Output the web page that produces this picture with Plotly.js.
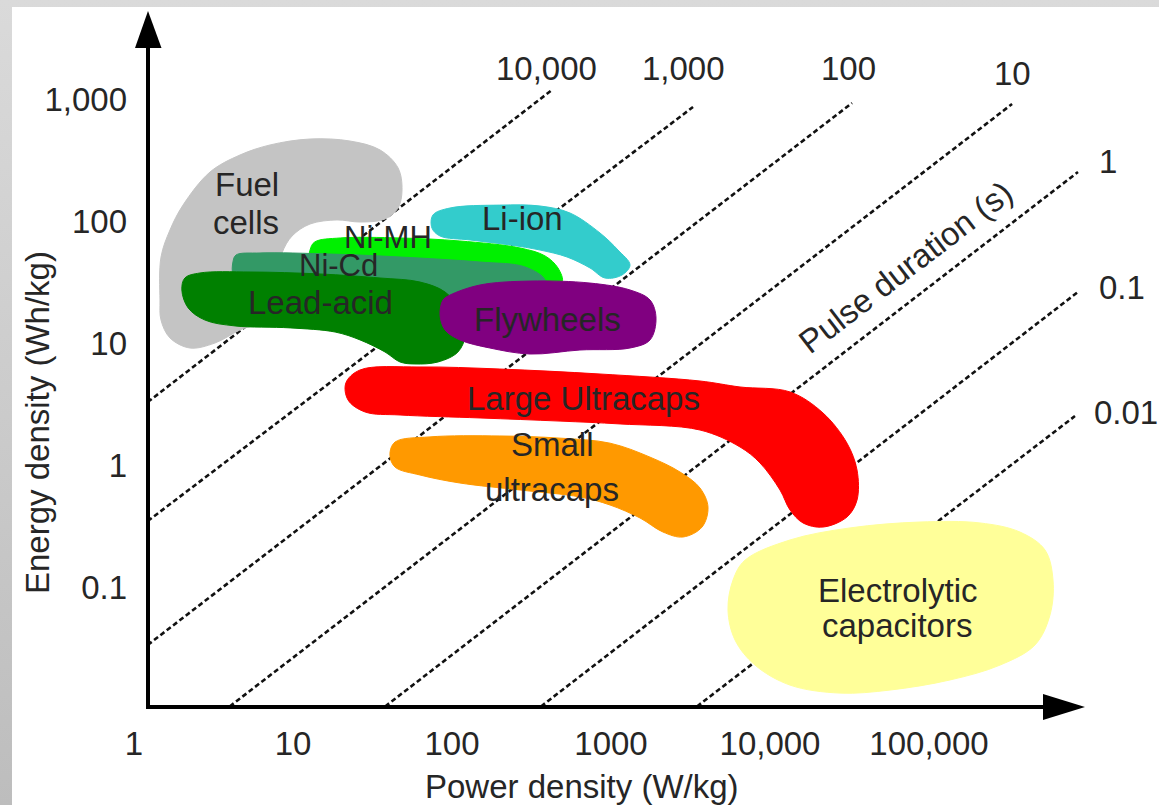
<!DOCTYPE html>
<html><head><meta charset="utf-8">
<script src="https://cdn.plot.ly/plotly-3.0.1.min.js"></script>
<style>
html,body{margin:0;padding:0;width:1159px;height:805px;overflow:hidden;background:linear-gradient(to bottom,#dadada,#bdbdbd);}
#chart{position:absolute;left:12px;top:7px;width:1147px;height:798px;background:#fff;}
</style></head><body><div id="chart"></div>
<script>
// ---- axes ----
const xTickVals = [1, 10, 100, 1000, 10000, 100000];
const xTickText = ['1', '10', '100', '1000', '10,000', '100,000'];
const yTickVals = [0.1, 1, 10, 100, 1000];
const yTickText = ['0.1', '1', '10', '100', '1,000'];

// ---- constant pulse-duration lines (seconds) ----
const pulseLabels = ['10,000', '1,000', '100', '10', '1', '0.1', '0.01'];
const pulseStartP = [1.22, 1.22, 1.22, 4.0, 38, 363, 3475];
const pulseStartE = [3.28, 0.347, 0.0335, 0.0105, 0.0105, 0.0105, 0.0105];
const pulseEndP = [425, 3280, 32800, 333000, 865000, 865000, 828000];
const pulseEndE = [1185, 860, 927, 910, 252, 26.2, 2.52];

// ---- technology regions (power density W/kg, energy density Wh/kg) ----
const fuelP = [1.457, 1.479, 1.684, 2.033, 3.006, 4.64, 7.17, 12.8, 22.8, 35.3, 45.8, 48.5, 45.8, 37.9, 26.4, 18.9, 12.8, 9.86, 8.53, 7.82, 6.96, 4.64, 3.23, 2.25, 1.684, 1.479];
const fuelE = [22.5, 50.7, 84.4, 135, 252, 347.5, 420, 470, 452.6, 382, 272, 179.5, 127.8, 103.8, 98.1, 102, 94.5, 75.3, 54.7, 32.8, 16.0, 12.8, 10.0, 9.10, 11.0, 15.4];
const liP = [75.9, 97.1, 200, 358, 552, 853, 1107, 1317, 1173, 917, 738, 529, 358, 232, 130, 84.1, 74.8];
const liE = [112, 127.8, 135, 132.7, 116.3, 79.7, 57.8, 43.6, 36.1, 34.1, 41.2, 50.7, 57.8, 63.6, 69.9, 75.3, 87.6];
const nimhP = [12.8, 13.7, 19.8, 47.1, 112, 268, 385, 464, 492, 358, 97.1, 22.8, 12.8];
const nimhE = [57.8, 67.3, 72.6, 72.6, 68.6, 60.1, 51.7, 41.2, 31.6, 29.9, 32.8, 36.1, 39.7];
const nicdP = [4.19, 4.38, 6.20, 17.1, 47.1, 150, 288, 385, 373, 97.1, 22.8, 4.64, 4.19];
const nicdE = [46.1, 52.6, 54.7, 53.6, 50.7, 46.1, 42.0, 32.8, 26.2, 24.7, 26.2, 29.9, 36.1];
const leadP = [2.00, 2.09, 2.60, 5.37, 14.8, 35.3, 62.9, 90.4, 112, 121, 109, 81.7, 58.5, 47.1, 37.9, 26.4, 18.4, 9.58, 4.32, 2.80, 2.19];
const leadE = [27.2, 34.1, 37.5, 38.2, 36.8, 34.1, 31.6, 26.2, 18.6, 11.6, 8.44, 6.99, 6.73, 6.99, 8.44, 10.6, 12.3, 13.3, 13.8, 15.4, 19.4];
const flyP = [87.8, 97.1, 150, 310, 738, 1317, 1760, 1919, 1760, 1317, 638, 310, 173, 112, 90.4, 84.1];
const flyE = [22.5, 24.7, 29.9, 32.2, 31.0, 27.2, 22.5, 16.0, 10.6, 9.10, 8.76, 8.12, 9.10, 10.6, 12.8, 17.0];
const largeP = [26.4, 62.9, 200, 853, 3628, 6477, 13360, 21540, 30500, 35260, 35260, 30500, 21540, 16130, 13360, 11560, 8651, 6477, 3628, 1139, 478, 150, 47.1, 28.4, 22.2, 21.5];
const largeE = [6.01, 6.36, 6.12, 5.57, 4.88, 4.36, 3.97, 2.67, 1.51, 0.910, 0.516, 0.375, 0.310, 0.335, 0.428, 0.624, 1.04, 1.405, 1.936, 2.17, 2.29, 2.43, 2.57, 2.72, 3.41, 4.70];
const smallP = [43.8, 72.7, 200, 478, 986, 1760, 2716, 3628, 4074, 3736, 2837, 2124, 1522, 986, 638, 268, 112, 62.9, 43.8, 40.7];
const smallE = [1.54, 1.70, 1.73, 1.66, 1.51, 1.16, 0.876, 0.648, 0.452, 0.310, 0.257, 0.282, 0.368, 0.470, 0.547, 0.624, 0.712, 0.828, 0.963, 1.21];
const elecP = [6963, 13360, 31860, 87800, 209300, 373600, 536600, 602500, 576800, 464200, 279600, 135600, 56850, 27560, 13360, 8050, 6025, 5442, 5852];
const elecE = [0.166, 0.243, 0.305, 0.341, 0.335, 0.282, 0.201, 0.114, 0.0590, 0.0335, 0.0229, 0.0173, 0.0143, 0.0135, 0.0157, 0.0229, 0.0368, 0.0648, 0.114];

const FONT = 'Liberation Sans, Arial, Helvetica, sans-serif';
const TXT = '#262626';

// page-pixel -> paper helpers (layout only)
const PL = 130, PR = 1159, PT = 10, PB = 707;
const fx = px => (px - PL) / (PR - PL);
const fy = py => (PB - py) / (PB - PT);

const traces = [];
for (let i = 0; i < pulseLabels.length; i++) {
  traces.push({
    type: 'scatter', mode: 'lines',
    x: [pulseStartP[i], pulseEndP[i]], y: [pulseStartE[i], pulseEndE[i]],
    line: {color: '#111', width: 2.6, dash: '5px,3px'},
    hoverinfo: 'skip'
  });
}
function region(P, E, color) {
  traces.push({
    type: 'scatter', mode: 'lines', fill: 'toself', fillcolor: color,
    x: P.concat([P[0]]), y: E.concat([E[0]]),
    line: {color: color, width: 1, shape: 'spline', smoothing: 1},
    hoverinfo: 'skip'
  });
}
region(fuelP, fuelE, '#c4c4c4');
region(elecP, elecE, '#ffff99');
region(largeP, largeE, '#ff0000');
region(smallP, smallE, '#ff9900');
region(liP, liE, '#33cccc');
region(nimhP, nimhE, '#00f000');
region(nicdP, nicdE, '#339966');
region(leadP, leadE, '#008000');
region(flyP, flyE, '#800080');

function ann(text, px, py, extra) {
  return Object.assign({
    text: text, xref: 'paper', yref: 'paper', x: fx(px), y: fy(py),
    xanchor: 'center', yanchor: 'middle', showarrow: false,
    font: {family: FONT, size: 33, color: TXT}
  }, extra || {});
}
const smallFont = {font: {family: FONT, size: 31, color: TXT}};
const pulseLabelPos = [[546, 68], [683, 69], [848, 69], [1012, 74], [1108, 161], [1122, 288], [1126, 413]];
const annotations = [
  ann('Fuel', 247, 184), ann('cells', 246, 222),
  ann('Li-ion', 522, 219), ann('Ni-MH', 388, 237, smallFont), ann('Ni-Cd', 338, 265, smallFont),
  ann('Lead-acid', 320, 302), ann('Flywheels', 547, 319),
  ann('Large Ultracaps', 583, 398), ann('Small', 552, 444), ann('ultracaps', 552, 489),
  ann('Electrolytic', 898, 590), ann('capacitors', 897, 625),
  ann('Pulse duration (s)', 905, 267, {textangle: -37.5}),
  ann('Power density (W/kg)', 582, 786),
  ann('Energy density (Wh/kg)', 37, 423, {textangle: -90})
];
pulseLabels.forEach((t, i) => annotations.push(ann(t, pulseLabelPos[i][0], pulseLabelPos[i][1])));

const shapes = [
  {type: 'line', xref: 'paper', yref: 'paper', x0: fx(148), x1: fx(148), y0: fy(709), y1: fy(44), line: {color: '#000', width: 4}},
  {type: 'line', xref: 'paper', yref: 'paper', x0: fx(146), x1: fx(1048), y0: fy(707), y1: fy(707), line: {color: '#000', width: 4}},
  {type: 'path', xref: 'paper', yref: 'paper', fillcolor: '#000', line: {width: 0},
   path: `M ${fx(135)} ${fy(48)} L ${fx(148)} ${fy(11)} L ${fx(161.5)} ${fy(48)} Z`},
  {type: 'path', xref: 'paper', yref: 'paper', fillcolor: '#000', line: {width: 0},
   path: `M ${fx(1043)} ${fy(694)} L ${fx(1085)} ${fy(707)} L ${fx(1043)} ${fy(720)} Z`}
];

const layout = {
  width: 1147, height: 798,
  margin: {l: PL - 12, r: 1159 - PR, t: PT - 7, b: 798 - (PT - 7) - (PB - PT)},
  paper_bgcolor: '#ffffff', plot_bgcolor: 'rgba(0,0,0,0)',
  showlegend: false, hovermode: false,
  xaxis: {type: 'log', range: [(PL - 134) / 159, (PR - 134) / 159], tickvals: xTickVals, ticktext: xTickText,
          showgrid: false, zeroline: false, showline: false, ticks: '', ticklabelstandoff: 14,
          tickfont: {family: FONT, size: 33, color: TXT}, fixedrange: true},
  yaxis: {type: 'log', range: [(465 - PB) / 122, (465 - PT) / 122], tickvals: yTickVals, ticktext: yTickText,
          showgrid: false, zeroline: false, showline: false, ticks: '', ticklabelstandoff: 2,
          tickfont: {family: FONT, size: 33, color: TXT}, fixedrange: true},
  annotations: annotations, shapes: shapes
};
Plotly.newPlot('chart', traces, layout, {displayModeBar: false, staticPlot: true});
</script></body></html>
